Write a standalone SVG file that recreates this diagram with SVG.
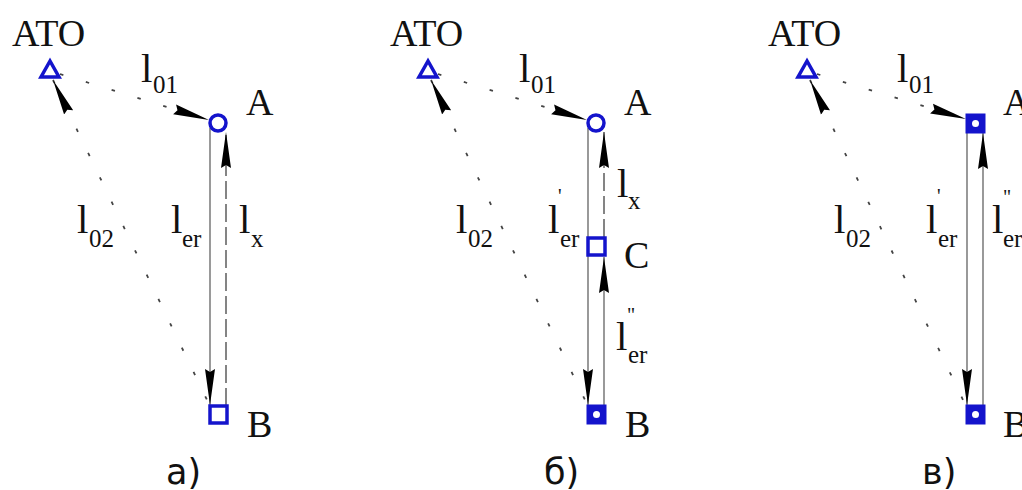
<svg xmlns="http://www.w3.org/2000/svg" width="1022" height="490" viewBox="0 0 1022 490">
<defs>
<style>
.mk{fill:#fff;stroke:#1414cc;stroke-width:3.5}
.mkf{fill:#1414cc;stroke:#1414cc;stroke-width:3}
.dot{fill:#fff;stroke:none}
.dotl{fill:none;stroke:#444;stroke-width:1.8;stroke-dasharray:3.5 23.5}
.sol{fill:none;stroke:#888;stroke-width:1.7}
.dsh{fill:none;stroke:#666;stroke-width:1.6;stroke-dasharray:18 5}
.t{font-family:"Liberation Serif","Times New Roman",serif;fill:#111}
.big{font-size:38px}
.l{font-size:41px}
.s{font-size:25px}
.p{font-size:20px}
.cap{font-family:"DejaVu Sans","Liberation Sans",sans-serif;font-size:35px;fill:#111}
</style>
<marker id="ar" markerUnits="userSpaceOnUse" markerWidth="37" markerHeight="11" refX="36" refY="5.5" orient="auto-start-reverse" viewBox="0 0 37 11">
<path d="M0,0.5 L36,5.5 L0,10.5 L3,5.5 Z" fill="#000"/>
</marker>
</defs>
<rect width="1022" height="490" fill="#fff"/>

<g id="connectors">
<!-- panel a -->
<line class="dotl" x1="60" y1="74" x2="209" y2="120" marker-end="url(#ar)"/>
<line class="dotl" x1="53" y1="80" x2="208" y2="402" marker-start="url(#ar)"/>
<line class="sol" x1="210" y1="128" x2="210" y2="405" marker-end="url(#ar)"/>
<line class="dsh" x1="226" y1="406" x2="226" y2="132" marker-end="url(#ar)"/>
<!-- panel b -->
<line class="dotl" x1="438" y1="74" x2="587" y2="120" marker-end="url(#ar)"/>
<line class="dotl" x1="431" y1="80" x2="586" y2="402" marker-start="url(#ar)"/>
<line class="sol" x1="588" y1="128" x2="588" y2="405" marker-end="url(#ar)"/>
<line class="dsh" x1="604" y1="237" x2="604" y2="132" marker-end="url(#ar)"/>
<line class="sol" x1="604" y1="406" x2="604" y2="257" marker-end="url(#ar)"/>
<!-- panel c -->
<line class="dotl" x1="817" y1="74" x2="966" y2="119" marker-end="url(#ar)"/>
<line class="dotl" x1="810" y1="80" x2="964" y2="402" marker-start="url(#ar)"/>
<line class="sol" x1="967" y1="132" x2="967" y2="405" marker-end="url(#ar)"/>
<line class="sol" x1="983" y1="406" x2="983" y2="133" marker-end="url(#ar)"/>
</g>

<g id="a-ATO"><polygon class="mk" points="50,61 41,77 59,77"/><text class="t big" x="12" y="46">ATO</text></g>
<g id="a-A"><circle class="mk" cx="218" cy="123" r="8"/><text class="t big" x="246" y="115">A</text></g>
<g id="a-B"><rect class="mk" x="210" y="406" width="17" height="17"/><text class="t big" x="247" y="437">B</text></g>

<g id="b-ATO"><polygon class="mk" points="428,61 419,77 437,77"/><text class="t big" x="390" y="46">ATO</text></g>
<g id="b-A"><circle class="mk" cx="596" cy="123" r="8"/><text class="t big" x="624" y="115">A</text></g>
<g id="b-C"><rect class="mk" x="588" y="238" width="17" height="17"/><text class="t big" x="624" y="268">C</text></g>
<g id="b-B"><rect class="mkf" x="588" y="406" width="17" height="17"/><circle class="dot" cx="596.5" cy="414.5" r="3.5"/><text class="t big" x="625" y="437">B</text></g>

<g id="c-ATO"><polygon class="mk" points="807,61 798,77 816,77"/><text class="t big" x="768" y="46">ATO</text></g>
<g id="c-A"><rect class="mkf" x="967" y="115" width="17" height="17"/><circle class="dot" cx="975.5" cy="123.5" r="3.5"/><text class="t big" x="1003" y="115">A</text></g>
<g id="c-B"><rect class="mkf" x="967" y="406" width="17" height="17"/><circle class="dot" cx="975.5" cy="414.5" r="3.5"/><text class="t big" x="1003" y="437">B</text></g>

<g id="labels">
<!-- a -->
<text class="t l" x="141" y="82">l</text><text class="t s" x="153" y="93">01</text>
<text class="t l" x="77" y="233">l</text><text class="t s" x="89" y="247">02</text>
<text class="t l" x="171" y="233">l</text><text class="t s" x="182" y="247">er</text>
<text class="t l" x="239" y="233">l</text><text class="t s" x="251" y="247">x</text>
<!-- b -->
<text class="t l" x="519" y="82">l</text><text class="t s" x="531" y="93">01</text>
<text class="t l" x="456" y="233">l</text><text class="t s" x="468" y="247">02</text>
<text class="t l" x="548" y="233">l</text><text class="t p" x="558" y="203">'</text><text class="t s" x="560" y="247">er</text>
<text class="t l" x="617" y="197">l</text><text class="t s" x="628" y="209">x</text>
<text class="t l" x="616" y="350">l</text><text class="t p" x="627" y="322">"</text><text class="t s" x="628" y="363">er</text>
<!-- c -->
<text class="t l" x="897" y="82">l</text><text class="t s" x="909" y="93">01</text>
<text class="t l" x="834" y="233">l</text><text class="t s" x="846" y="247">02</text>
<text class="t l" x="926" y="233">l</text><text class="t p" x="937" y="203">'</text><text class="t s" x="938" y="247">er</text>
<text class="t l" x="992" y="233">l</text><text class="t p" x="1003" y="204">"</text><text class="t s" x="1003" y="247">er</text>
</g>

<g id="captions">
<text class="cap" x="166" y="484">а)</text>
<text class="cap" x="544" y="484">б)</text>
<text class="cap" x="922" y="484">в)</text>
</g>
</svg>
